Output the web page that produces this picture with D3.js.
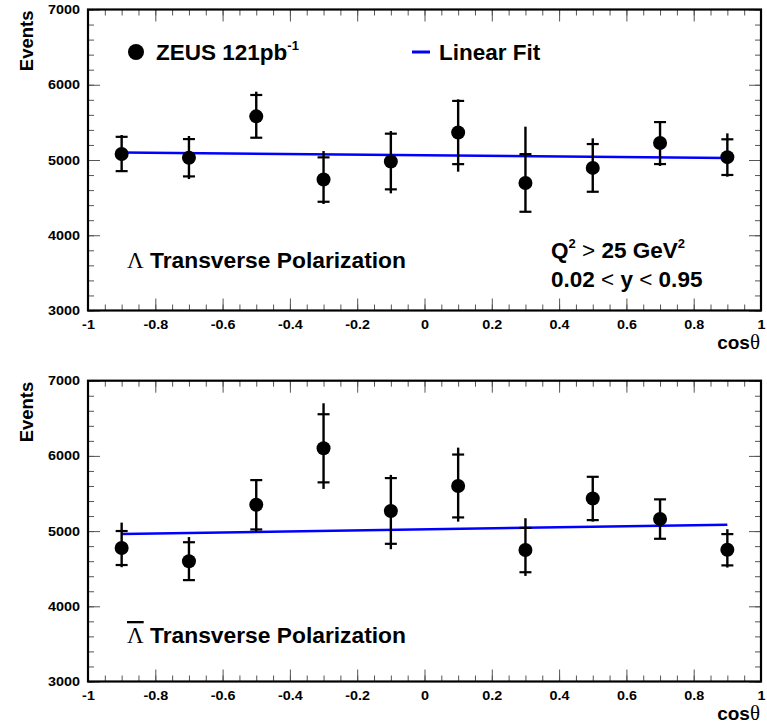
<!DOCTYPE html>
<html>
<head>
<meta charset="utf-8">
<script src="https://cdn.jsdelivr.net/npm/d3@7.9.0/dist/d3.min.js"></script>
<style>
  body { margin: 0; background: white; }
  svg text { font-family: "Liberation Sans", Arial, sans-serif; font-weight: bold; }
</style>
</head>
<body>
<svg id="chart" width="767" height="725"></svg>
<script>
// bin centres in cos(theta)
const cosTheta = [-0.9, -0.7, -0.5, -0.3, -0.1, 0.1, 0.3, 0.5, 0.7, 0.9];

// Lambda
const lamEvents  = [5080, 5030, 5580, 4740, 4980, 5365, 4695, 4895, 5225, 5038];
const lamStat    = [228, 248, 284, 295, 370, 420, 383, 317, 279, 237];
const lamTotUp   = [252, 289, 328, 379, 405, 441, 748, 393, 280, 316];
const lamTotDown = [228, 283, 284, 325, 423, 520, 383, 325, 305, 260];
const lamFit     = [5100, 5025];

// anti-Lambda
const alamEvents  = [4775, 4600, 5350, 6101, 5268, 5600, 4748, 5434, 5160, 4752];
const alamStat    = [226, 252, 328, 453, 437, 418, 295, 288, 262, 208];
const alamTotUp   = [338, 321, 330, 599, 479, 510, 423, 290, 264, 273];
const alamTotDown = [255, 252, 357, 540, 509, 474, 344, 308, 262, 237];
const alamFit     = [4960, 5085];

const fitRange = [-0.9, 0.9];

const xTicks = [-1, -0.8, -0.6, -0.4, -0.2, 0, 0.2, 0.4, 0.6, 0.8, 1];
const xTickLabels = ["-1", "-0.8", "-0.6", "-0.4", "-0.2", "0", "0.2", "0.4", "0.6", "0.8", "1"];
const xMinor = d3.range(-20, 21).map(i => i * 0.05);
const yTicks = [3000, 4000, 5000, 6000, 7000];
const yMinor = d3.range(15, 36).map(i => i * 200);

const svg = d3.select("#chart");
const x = d3.scaleLinear().domain([-1, 1]).range([88, 761]);

function drawPanel(top, bottom, events, stat, totUp, totDown, fit, labelY, anti, showLegend) {
  const y = d3.scaleLinear().domain([3000, 7000]).range([bottom, top]);
  const g = svg.append("g");

  // minor ticks
  g.append("g").attr("transform", `translate(0,${bottom})`)
    .call(d3.axisBottom(x).tickValues(xMinor).tickSize(-6).tickFormat(""));
  g.append("g").attr("transform", `translate(0,${top})`)
    .call(d3.axisTop(x).tickValues(xMinor).tickSize(-6).tickFormat(""));
  g.append("g").attr("transform", `translate(88,0)`)
    .call(d3.axisLeft(y).tickValues(yMinor).tickSize(-6).tickFormat(""));
  g.append("g").attr("transform", `translate(761,0)`)
    .call(d3.axisRight(y).tickValues(yMinor).tickSize(-6).tickFormat(""));

  // major ticks
  const xb = g.append("g").attr("transform", `translate(0,${bottom})`)
    .call(d3.axisBottom(x).tickValues(xTicks).tickSize(-12).tickPadding(10)
      .tickFormat((d, i) => xTickLabels[i]));
  g.append("g").attr("transform", `translate(0,${top})`)
    .call(d3.axisTop(x).tickValues(xTicks).tickSize(-12).tickFormat(""));
  const yl = g.append("g").attr("transform", `translate(88,0)`)
    .call(d3.axisLeft(y).tickValues(yTicks).tickSize(-12).tickPadding(7).tickFormat(d3.format("d")));
  g.append("g").attr("transform", `translate(761,0)`)
    .call(d3.axisRight(y).tickValues(yTicks).tickSize(-12).tickFormat(""));

  g.selectAll(".domain").remove();
  g.selectAll(".tick line").attr("stroke", "#555").attr("stroke-width", 1);
  xb.selectAll("text").attr("font-size", 12.5).attr("fill", "black")
    .attr("transform", "scale(1.15,1)");
  yl.selectAll("text").attr("font-size", 12.5).attr("fill", "black")
    .attr("transform", "scale(1.15,1)");

  // frame
  g.append("rect")
    .attr("x", 88).attr("y", top)
    .attr("width", 761 - 88).attr("height", bottom - top)
    .attr("fill", "none").attr("stroke", "black").attr("stroke-width", 2.2);

  // fit line
  g.append("line")
    .attr("x1", x(fitRange[0])).attr("y1", y(fit[0]))
    .attr("x2", x(fitRange[1])).attr("y2", y(fit[1]))
    .attr("stroke", "#0000ff").attr("stroke-width", 2.5);

  const pts = cosTheta.map((c, i) => ({
    c, v: events[i], s: stat[i], up: totUp[i], dn: totDown[i]
  }));

  // total error (no caps)
  g.selectAll(".tot").data(pts).join("line")
    .attr("x1", d => x(d.c)).attr("x2", d => x(d.c))
    .attr("y1", d => y(d.v + d.up)).attr("y2", d => y(d.v - d.dn))
    .attr("stroke", "black").attr("stroke-width", 2.4);

  // statistical error caps
  const capW = 6;
  g.selectAll(".capu").data(pts).join("line")
    .attr("x1", d => x(d.c) - capW).attr("x2", d => x(d.c) + capW)
    .attr("y1", d => y(d.v + d.s)).attr("y2", d => y(d.v + d.s))
    .attr("stroke", "black").attr("stroke-width", 2.2);
  g.selectAll(".capd").data(pts).join("line")
    .attr("x1", d => x(d.c) - capW).attr("x2", d => x(d.c) + capW)
    .attr("y1", d => y(d.v - d.s)).attr("y2", d => y(d.v - d.s))
    .attr("stroke", "black").attr("stroke-width", 2.2);

  g.selectAll(".pt").data(pts).join("circle")
    .attr("cx", d => x(d.c)).attr("cy", d => y(d.v))
    .attr("r", 7).attr("fill", "black");

  // axis titles
  g.append("text")
    .attr("transform", `translate(33,${top + 1}) rotate(-90)`)
    .attr("text-anchor", "end").attr("font-size", 18.5)
    .text("Events");

  const xt = g.append("text")
    .attr("x", 760).attr("y", bottom + 38.5)
    .attr("text-anchor", "end").attr("font-size", 19);
  xt.append("tspan").text("cos");
  xt.append("tspan").attr("font-family", "Liberation Serif").attr("font-weight", "normal")
    .attr("font-size", 21).text("θ");

  // polarization label (overline marks the anti-particle)
  const lt = g.append("text").attr("x", 127).attr("y", labelY).attr("font-size", 22.8);
  lt.append("tspan").attr("font-family", "Liberation Serif").attr("font-weight", "normal")
    .attr("font-size", 23)
    .style("text-decoration", anti ? "overline" : "none")
    .text("Λ");
  lt.append("tspan").text(" Transverse Polarization");

  if (showLegend) {
    g.append("circle").attr("cx", 136).attr("cy", 52).attr("r", 8).attr("fill", "black");
    const zt = g.append("text").attr("x", 156).attr("y", 60).attr("font-size", 22.5);
    zt.append("tspan").text("ZEUS 121pb");
    zt.append("tspan").attr("font-size", 13).attr("dy", -10).text("-1");

    g.append("line").attr("x1", 412).attr("x2", 430).attr("y1", 52).attr("y2", 52)
      .attr("stroke", "#0000ff").attr("stroke-width", 3);
    g.append("text").attr("x", 439).attr("y", 60).attr("font-size", 22.5).text("Linear Fit");

    const qt = g.append("text").attr("x", 551).attr("y", 258).attr("font-size", 22.5);
    qt.append("tspan").text("Q");
    qt.append("tspan").attr("font-size", 13).attr("dy", -10).text("2");
    qt.append("tspan").attr("dy", 10).attr("font-weight", "normal").text(" > ");
    qt.append("tspan").text("25 GeV");
    qt.append("tspan").attr("font-size", 13).attr("dy", -10).text("2");

    const yt = g.append("text").attr("x", 551).attr("y", 287).attr("font-size", 22.5);
    yt.append("tspan").text("0.02 ");
    yt.append("tspan").attr("font-weight", "normal").text("<");
    yt.append("tspan").text(" y ");
    yt.append("tspan").attr("font-weight", "normal").text("<");
    yt.append("tspan").text(" 0.95");
  }
}

drawPanel(9.5, 310.5, lamEvents, lamStat, lamTotUp, lamTotDown, lamFit, 268, false, true);
drawPanel(380.7, 681.5, alamEvents, alamStat, alamTotUp, alamTotDown, alamFit, 643, true, false);
</script>
</body>
</html>
